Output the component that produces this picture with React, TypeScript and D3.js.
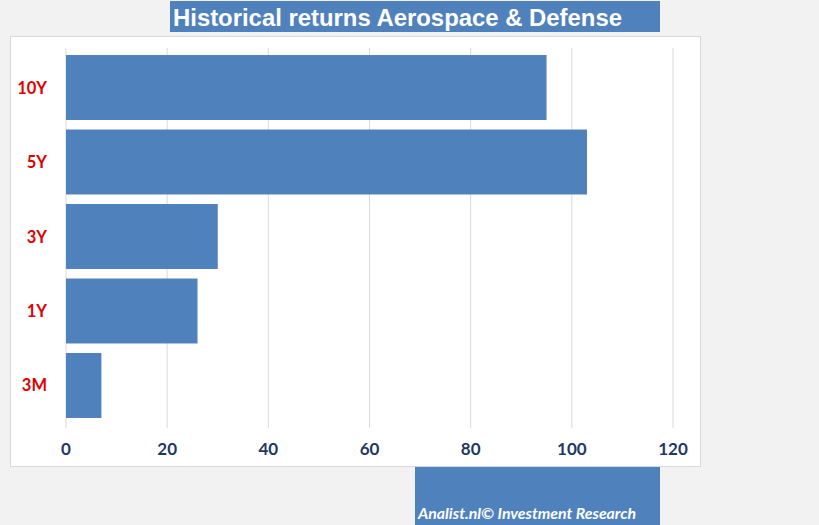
import React from "react";
import * as d3 from "d3";

const categories = ["10Y", "5Y", "3Y", "1Y", "3M"];
const returns = [95, 103, 30, 26, 7];
const xTicks = [0, 20, 40, 60, 80, 100, 120];

const W = 819;
const H = 525;
const BLUE = "#4f81bd";

export default function App() {
  const x = d3.scaleLinear().domain([0, 120]).range([66, 673]);
  const y = d3
    .scaleBand<string>()
    .domain(categories)
    .range([45.5, 427.5])
    .paddingInner(0.128)
    .paddingOuter(0.128);

  return (
    <svg
      width={W}
      height={H}
      style={{ position: "absolute", left: 0, top: 0 }}
    >
      <rect x={0} y={0} width={W} height={H} fill="#f2f2f2" />
      {/* plot panel */}
      <rect x={10.5} y={36.5} width={690} height={430} fill="#fff" stroke="#d9d9d9" />

      {/* title */}
      <rect x={170} y={1} width={490} height={31} fill={BLUE} />
      <text
        x={173}
        y={26}
        fill="#fff"
        fontFamily="'Liberation Sans', Arial, sans-serif"
        fontWeight="bold"
        fontSize={23}
        textLength={449}
        lengthAdjust="spacingAndGlyphs"
      >
        Historical returns Aerospace &amp; Defense
      </text>

      {/* grid */}
      {xTicks.map((t) => (
        <line
          key={t}
          x1={x(t)}
          x2={x(t)}
          y1={48}
          y2={428}
          stroke="#d9d9d9"
          strokeWidth={1}
        />
      ))}

      {/* bars */}
      {categories.map((c, i) => (
        <rect
          key={c}
          x={x(0)}
          y={y(c)}
          width={x(returns[i]) - x(0)}
          height={y.bandwidth()}
          fill={BLUE}
        />
      ))}

      {/* category labels */}
      {categories.map((c) => (
        <text
          key={c}
          x={47}
          y={(y(c) ?? 0) + y.bandwidth() / 2 + 6}
          textAnchor="end"
          fill="#e00000"
          fontFamily="Lato, 'Open Sans', sans-serif"
          fontWeight="bold"
          fontSize={16.5}
        >
          {c}
        </text>
      ))}

      {/* x tick labels */}
      {xTicks.map((t) => (
        <text
          key={t}
          x={x(t)}
          y={455}
          textAnchor="middle"
          fill="#1f3864"
          fontFamily="Lato, 'Open Sans', sans-serif"
          fontWeight="bold"
          fontSize={17}
        >
          {t}
        </text>
      ))}

      {/* footer */}
      <rect x={415} y={467} width={245} height={58} fill={BLUE} />
      <text
        x={418}
        y={519}
        fill="#fff"
        fontFamily="Lato, 'Open Sans', sans-serif"
        fontWeight="bold"
        fontStyle="italic"
        fontSize={15}
        textLength={218}
        lengthAdjust="spacingAndGlyphs"
      >
        Analist.nl© Investment Research
      </text>
    </svg>
  );
}
